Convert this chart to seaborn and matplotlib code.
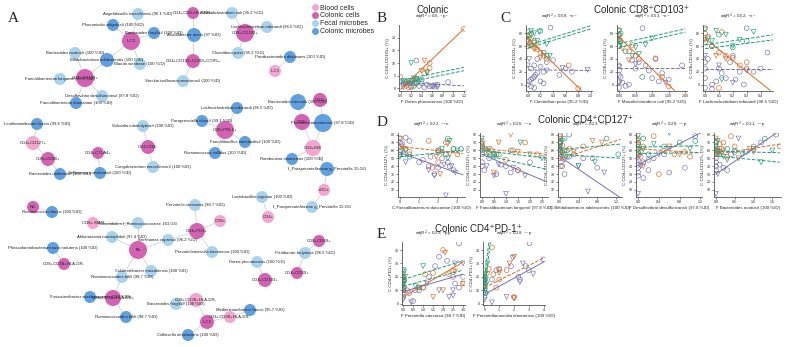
import numpy as np
import pandas as pd
import seaborn as sns
import matplotlib.pyplot as plt
from matplotlib.lines import Line2D
from matplotlib.ticker import FormatStrFormatter

sns.set_theme(style="ticks")
plt.rcParams['font.family'] = ['Liberation Sans', 'DejaVu Sans']

W, H = 787, 347

# ---------------- panel A : network ----------------
node_names = [
    "Angelakisella massiliensis (96.1 %ID)", "Phocaeicola vulgatus# (100 %ID)", "ILC3",
    "Bacteroides fragilis# (100 %ID)", "Acutalibacter muris (97 %ID)", "CD4+CD8+HLA-DR+",
    "Massiliclostridium coli (95.2 %ID)", "CD4+CD103+CCR9+CCR5+", "Stackia isoflavoniconvertens# (100 %ID)",
    "Clostridium porci (95.2 %ID)", "Bacteroides ovatus# (100 %ID)", "Bifidobacterium adolescentis (100 %ID)",
    "Blautia wexlerae (100 %ID)", "CD4+CD127+", "Faecalibacterium longum# (97.8 %ID)",
    "Desulfovibrio desulfuricans# (97.8 %ID)", "Faecalibacterium duncaniae (100 %ID)",
    "Lachnoclostridium edouardi (96.5 %ID)", "CD8+CD103+", "Parabacteroides distasonis (100 %ID)",
    "ILC3", "Bacteroides stercoris (100 %ID)", "CD4+", "Prevotella nanceiensis (97.8 %ID)", "CD8+",
    "CD4+EM", "Romboutsia timonensis (100 %ID)", "f_Paraprevotellaceae g_Prevotella 15.GG", "cDCs",
    "f_Paraprevotellaceae g_Prevotella 15.GG", "Lactobacillus rogosae (100 %ID)", "CD4+",
    "Lachnoclostridium edouardi (96.5 %ID)", "Paraprevotella clara# (99.1 %ID)", "CD8+PDL1+",
    "Faecalibacillus intestinalis# (100 %ID)", "Ruminococcus callidus (100 %ID)",
    "Lentihominibacter faecis (99.6 %ID)", "CD4+CD127+", "CD8+CD80+", "Bacteroides uniformis# (100 %ID)",
    "CD4+CTLA4+", "Sellimonas intestinalis# (100 %ID)", "Schaalia odontolytica# (100 %ID)", "CD4-CD8-",
    "Congobacterium massiliense# (100 %ID)", "NK", "Ruminococcus faecis (100 %ID)",
    "Prevotella stercorea (98.7 %ID)", "CD8+ MAIT", "Clostridiales f_Ruminococcaceae 163.GG", "CD4+PD1+",
    "CD8+", "Akkermansia muciniphila# (97.4 %ID)", "Tfh", "Senimonas caprosia (96.2 %ID)",
    "Prevotellamassilia timonensis (100 %ID)", "Phascolarctobacterium succinatutens (100 %ID)",
    "CD8+CD38+HLA-DR-", "Colidextribacter massiliensis (100 %ID)", "Ruminococcoides bili# (98.7 %ID)",
    "Fusicatenibacter saccharivorans (100 %ID)", "CD4+CD38+HLA-DR+", "Ruminococcoides bili# (98.7 %ID)",
    "Bacteroides fragilis# (100 %ID)", "CD8+CD38+HLA-DR-", "ILC2", "Collinsella aerofaciens (100 %ID)",
    "CD4+CD38+HLA-DR-", "Mediterraneibacter faecis (95.7 %ID)", "Dorea phocaeensis (100 %ID)",
    "CD4+CD103+", "Flintibacter butyricus (96.5 %ID)", "CD8+CD69+", "CD4+CD39+",
]
node_x = [138, 113, 131, 154, 194, 193, 232, 193, 183, 238, 75, 107, 140, 85, 60, 102, 76,
          267, 245, 290, 275, 298, 320, 323, 302, 313, 292, 327, 324, 312, 262, 268,
          237, 202, 225, 245, 215, 37, 33, 48, 60, 98, 100, 143, 148, 153, 33, 52,
          195, 93, 138, 197, 220, 112, 138, 168, 212, 53, 64, 151, 122, 90, 113, 126,
          176, 196, 207, 188, 230, 250, 257, 265, 305, 319, 297]
node_y = [14, 25, 41, 33, 35, 13, 13, 61, 81, 53, 53, 60, 64, 78, 79, 96, 103,
          27, 33, 57, 71, 102, 100, 123, 122, 148, 159, 169, 190, 207, 197, 217,
          108, 121, 130, 142, 153, 124, 143, 159, 174, 153, 173, 126, 147, 167, 207, 212,
          205, 223, 223, 231, 221, 237, 250, 240, 252, 248, 264, 271, 277, 297, 298, 317,
          304, 300, 322, 335, 317, 310, 262, 280, 253, 241, 273]
node_type = list("FMCMMCFCFFFMFCFFM" "FCMBMCMCBMMBFFB" "MMCMMMBCMCMFCFCM"
                 "FBFCBFCFFMCFFMCMFBCMBMFCFCC")
node_r = [6, 6, 9, 6, 7, 6, 6, 7, 6, 6, 6, 7, 6, 9, 6, 6, 6,
          6, 9, 6, 6, 8, 7, 9, 8, 8, 6, 7, 6, 6, 6, 6,
          6, 6, 9, 6, 6, 6, 7, 7, 6, 6, 6, 6, 7, 6, 6, 6,
          6, 6, 6, 8, 6, 6, 9, 6, 6, 6, 6, 6, 6, 6, 8, 6,
          6, 7, 7, 6, 6, 6, 6, 7, 6, 6, 6]
edges = [(1, 3), (2, 3), (4, 3), (12, 3), (13, 3),
         (12, 14), (11, 14), (15, 14), (16, 14), (17, 14),
         (6, 5), (5, 8), (8, 9), (19, 7), (19, 18), (19, 10), (20, 21),
         (22, 25), (23, 24), (25, 24), (25, 26), (24, 26), (26, 27), (26, 28), (28, 29), (29, 30),
         (31, 32), (35, 33), (35, 34), (35, 36), (35, 37),
         (38, 39), (39, 40), (40, 41), (42, 43), (44, 45), (45, 46), (47, 48),
         (50, 51), (51, 55), (54, 55), (56, 55), (60, 55), (61, 55),
         (52, 49), (52, 53), (52, 56), (52, 57), (58, 59),
         (61, 63), (62, 63), (64, 63), (65, 66), (66, 67), (67, 68), (67, 69), (69, 70),
         (71, 72), (73, 74), (73, 75)]

type_names = {"B": "Blood cells", "C": "Colonic cells", "F": "Fecal microbes", "M": "Colonic microbes"}
type_colors = {"Blood cells": "#F5A6D0", "Colonic cells": "#D462B3",
               "Fecal microbes": "#A8D3EF", "Colonic microbes": "#5EA0E0"}

fig = plt.figure(figsize=(7.87, 3.47), dpi=100)
axA = fig.add_axes([0, 0, 380 / W, 1])

nodes = pd.DataFrame({"name": node_names, "x": node_x, "y": node_y,
                      "type": [type_names[t] for t in node_type], "r": node_r})

for a, b in edges:
    axA.plot([node_x[a - 1], node_x[b - 1]], [node_y[a - 1], node_y[b - 1]],
             color="#c8c8c8", lw=0.5, zorder=1)

sns.scatterplot(data=nodes, x="x", y="y", hue="type", palette=type_colors,
                linewidth=0, legend=False, ax=axA, zorder=2)
axA.collections[-1].set_sizes((1.44 * nodes["r"]) ** 2)

for _, row in nodes.iterrows():
    axA.text(row["x"], row["y"], row["name"], ha="center", va="center", fontsize=3.1,
             color="#222222", zorder=3)

axA.set_xlim(0, 380)
axA.set_ylim(347, 0)
axA.axis("off")
handles = [Line2D([0], [0], marker="o", ls="", mfc=c, mec="none", ms=5, label=k)
           for k, c in type_colors.items()]
axA.legend(handles=handles, loc="upper left", bbox_to_anchor=(0.812, 0.995), frameon=False,
           fontsize=5, handletextpad=0.2, labelspacing=0.12, borderaxespad=0, handlelength=1)

# ---------------- scatter panels ----------------
# point order in each panel: purple o, purple v, orange o, orange v, green o, green v
b_x = [0.05, 0.1, 0.15, 0.2, 0.25, 0.3, 0.35, 0.4, 0.45, 0.5, 0.55, 0.6, 0.65, 0.7, 0.9, 0.3,
       0.05, 0.2, 0.6, 0.65, 0.7,
       0.0, 0.1, 0.2, 0.3, 0.45, 0.55, 0.55, 1.2, 0.15,
       0.1, 0.25, 0.4, 0.5, 0.45,
       0.1, 0.2, 0.3, 0.4, 0.25,
       0.2, 0.05, 0.15, 0.25, 0.3, 0.5, 0.35]
b_y = [2, 1, 3, 0.5, 2, 4, 1, 2, 0.5, 1.5, 0.8, 1, 0.7, 1.5, 2.5, 11,
       0.5, 2, 0.8, 1.2, 0.5,
       4.5, 2, 1, 2.5, 6, 10, 8, 23.5, 0.5,
       1.5, 3, 7, 6.5, 11,
       2.5, 3, 2, 3.5, 1,
       10, 3, 2, 4, 3.5, 6, 3]
b_n = [16, 5, 9, 5, 5, 7]
b_fits = [("orange", "-", 0, -0.3, 1.2, 23.5), ("green", "--", 0, 3.2, 1.2, 8.3),
          ("green", "--", 0, 1.9, 1.2, 7.0), ("purple", "--", 0, 2.5, 1.2, 1.0)]

c1_x = [0.0, 0.02, 0.05, 0.08, 0.1, 0.12, 0.15, 0.2, 0.25, 0.05, 0.1, 0.3, 0.4, 0.36, 0.5, 0.6, 0.7, 0.1,
        0.05, 0.2, 0.15, 0.25,
        0.0, 0.3, 0.55, 0.95, 0.02,
        0.0, 0.02, 0.05, 0.1, 0.15, 0.2, 0.25, 0.12, 0.3, 0.65, 0.8, 0.03,
        0.05, 0.1, 0.2, 0.0,
        0.05, 0.1, 0.2, 0.0, 0.25, 0.3,
        0.05, 0.1, 0.18, 0.0, 0.02, 0.3, 0.15, 0.35]
c1_y = [0, 5, 8, 10, 12, 15, 18, 28, 20, 25, 30, 35, 38, 89, 15, 25, 20, -5, -3, 5, 40, 2,
        30, 22, 26, 23, 40,
        82, 78, 72, 65, 55, 50, 45, 58, 40, 30, -6, 62,
        60, 55, 42, 68,
        80, 68, 84, 60, 50, 45,
        84, 80, 82, 76, 70, 63, 68, 45]
c1_n = [22, 5, 12, 4, 6, 8]
c1_fits = [("orange", "-", 0, 72, 0.85, -9), ("green", "--", 0, 61, 1.0, 92),
           ("green", "--", 0, 57, 1.0, 87), ("purple", "--", 0, 23, 1.0, 22)]

c2_x = [0.0, 0.0, 0.0, 0.0, 0.0, 0.05, 0.1, 0.3, 0.5, 0.6, 0.8, 0.9, 1.0, 1.2, 1.3, 1.5, 1.9, 0.71, 0.4,
        0.2, 1.1,
        0.0, 0.0, 0.5, 1.4,
        0.0, 0.0, 0.05, 0.0, 0.4, 0.5, 0.3, 0.6, 1.1, 1.3, 1.5,
        0.0, 0.1, 0.3,
        0.0, 0.0, 0.05, 0.7, 0.2,
        0.0, 0.0, 0.0, 0.05, 0.4, 0.6, 0.8, 1.0, 0.5]
c2_y = [-5, 5, 15, 22, 30, 12, 3, 0, 25, 35, 30, 22, 10, 5, 18, 8, 30, 88, 38, -2, 40,
        2, 28, 32, 3,
        85, 78, 68, 60, 62, 45, 52, 40, 41, 12, -3,
        72, 56, 38,
        70, 60, 80, 12, 52,
        84, 76, 68, 63, 45, 48, 62, 72, 58]
c2_n = [21, 4, 11, 3, 5, 9]
c2_fits = [("orange", "-", 0, 74, 1.67, -9), ("green", "--", 0, 64, 2.0, 87),
           ("green", "--", 0, 58, 2.0, 82), ("purple", "--", 0, 26, 2.0, 26)]

c3_x = [0.0, 0.0, 0.0, 0.0, 0.02, 0.05, 0.08, 0.1, 0.12, 0.15, 0.18, 0.2, 0.22, 0.25, 0.3, 0.35, 0.45,
        0.4, 0.05, 0.28,
        0.0, 0.1, 0.2, 0.3,
        0.0, 0.0, 0.02, 0.05, 0.1, 0.12, 0.15, 0.2, 0.25, 0.3, 0.3, 0.1,
        0.0, 0.08, 0.15,
        0.0, 0.05, 0.1, 0.2, 0.3,
        0.0, 0.02, 0.05, 0.08, 0.15, 0.2, 0.25, 0.35, 0.12]
c3_y = [-5, 10, 25, 35, 40, 0, 5, 25, 18, 10, 35, 45, 8, 20, 88, 20, 50, 25, -7, 0,
        45, 30, 3, 22,
        88, 80, 75, 60, 50, 82, 45, 42, 30, 25, 35, -5,
        70, 45, 40,
        66, 60, 78, 58, 68,
        86, 72, 68, 84, 78, 60, 70, 82, 8]
c3_n = [20, 4, 12, 3, 5, 9]
c3_fits = [("orange", "-", 0, 72, 0.47, -9), ("green", "--", 0, 62, 0.5, 78),
           ("green", "--", 0, 56, 0.5, 70), ("purple", "--", 0, 25, 0.5, 25)]

d1_x = [0.0, 0.0, 0.0, 0.0, 0.1, 0.3, 0.5, 0.5, 1.0, 1.2, 1.5, 1.8, 2.0, 2.2, 2.5, 2.6, 2.8, 2.0, 1.6,
        0.1, 0.3, 1.5, 1.8, 2.3, 2.4, 2.7, 2.9,
        0.0, 0.3, 0.5, 1.5, 2.0, 2.2, 2.4, 2.8, 3.0, 2.0, 1.7,
        0.0, 0.2, 1.9, 2.1, 2.5, 2.6,
        0.0, 0.2, 0.5, 2.0, 2.4, 2.8, 2.5, 3.2,
        0.0, 0.3, 2.2, 2.6, 3.0, 2.5]
d1_y = [75, 70, 60, 55, 68, 76, 72, 55, 45, 48, 40, 30, 38, 50, 45, 40, 35, 60, 52,
        65, 45, 35, 28, 42, 3, 40, 32,
        65, 62, 58, 72, 60, 58, 70, 62, 55, 45, 38,
        75, 62, 52, 30, 68, 55,
        58, 55, 52, 58, 55, 62, 75, 62,
        52, 60, 62, 72, 60, 50]
d1_n = [19, 8, 11, 6, 8, 6]
d1_fits = [("purple", "-", 0, 57, 3.3, 29), ("orange", "--", 0, 65, 3.3, 56),
           ("green", "--", 0, 52, 3.3, 60)]

d2_x = [0.0, 0.0, 0.0, 0.0, 0.1, 0.3, 0.5, 0.8, 1.0, 1.2, 1.5, 0.6, 2.0,
        0.0, 0.2, 0.5, 1.0, 1.3, 1.8, 0.7,
        0.0, 0.0, 0.2, 0.4, 0.6, 1.0, 1.5, 1.8, 2.3, 1.3,
        0.0, 0.3, 0.7, 1.2, 0.5, 1.5,
        0.0, 0.1, 0.3, 0.7, 1.2, 0.5,
        0.0, 0.2, 0.5, 1.6, 2.5, 2.0]
d2_y = [55, 65, 45, 40, 35, 50, 55, 42, 40, 32, 35, 30, 45,
        60, 40, 28, 5, 38, 28, 42,
        72, 65, 58, 60, 55, 48, 35, 70, 55, 60,
        68, 62, 70, 80, 32, 58,
        68, 62, 58, 55, 60, 52,
        75, 60, 55, 70, 50, 55]
d2_n = [13, 7, 10, 6, 6, 6]
d2_fits = [("purple", "-", 0, 55, 2.7, 20), ("orange", "--", 0, 62, 2.7, 55),
           ("green", "--", 0, 60, 2.7, 50), ("green", "--", 0, 55, 2.7, 36)]

d3_x = [0.0, 0.0, 0.0, 0.0, 0.0, 0.0, 0.02, 0.05, 0.1, 0.15, 0.2, 0.3, 0.5, 0.7, 0.8,
        0.0, 0.1, 0.4, 0.6, 0.95,
        0.0, 0.0, 0.0, 0.0, 0.02, 0.05, 0.1, 0.2, 0.5, 0.02,
        0.0, 0.0, 0.05, 0.3, 0.7, 0.9,
        0.0, 0.0, 0.05, 0.1, 0.15, 1.0, 1.25, 0.2,
        0.0, 0.05, 0.1, 0.4, 0.75]
d3_y = [80, 72, 65, 60, 55, 50, 45, 40, 30, 52, 80, 55, 50, 50, 38,
        68, 48, 40, 8, 32,
        78, 70, 62, 58, 52, 66, 60, 62, 65, 40,
        75, 65, 55, 58, 72, 70,
        70, 62, 58, 75, 60, 75, 55, 52,
        65, 72, 55, 40, 45]
d3_n = [15, 5, 10, 6, 8, 5]
d3_fits = [("purple", "-", 0, 52, 1.3, 0), ("orange", "--", 0, 49, 1.3, 74),
           ("green", "--", 0, 61, 1.3, 68), ("green", "--", 0, 55, 1.3, 50)]

d4_x = [0.0, 0.0, 0.0, 0.0, 0.0, 0.02, 0.1, 0.2, 0.3, 0.5, 0.6, 0.9, 1.1, 0.2, 0.1,
        0.0, 0.0, 0.05, 0.4, 0.6,
        0.0, 0.0, 0.0, 0.0, 0.05, 0.1, 0.3, 0.5, 0.7, 0.9, 1.0, 0.4,
        0.0, 0.0, 0.1, 0.6, 0.8,
        0.0, 0.0, 0.05, 0.1, 0.2, 0.5, 0.8, 1.1,
        0.0, 0.0, 0.1, 0.3, 0.6, 1.0]
d4_y = [48, 42, 38, 32, 28, 55, 45, 48, 50, 55, 32, 38, 78, 35, 25,
        5, 50, 40, 55, 62,
        75, 68, 62, 58, 52, 65, 78, 60, 55, 58, 52, 30,
        72, 55, 40, 65, 55,
        70, 62, 58, 75, 55, 65, 70, 72,
        78, 65, 62, 68, 82, 62]
d4_n = [15, 5, 12, 5, 8, 6]
d4_fits = [("purple", "-", 0, 42, 1.2, 82), ("orange", "--", 0, 62, 1.2, 57),
           ("green", "--", 0, 64, 1.2, 66), ("green", "--", 0, 56, 1.2, 57)]

d5_x = [0.0, 0.0, 0.0, 0.0, 0.0, 0.05, 0.1, 0.2, 0.3, 0.5, 0.8, 1.0, 1.2, 1.6, 0.4,
        0.0, 0.05, 0.1, 0.3, 0.6,
        0.0, 0.0, 0.0, 0.05, 0.1, 0.15, 0.2, 0.4, 0.5, 1.7, 0.3,
        0.0, 0.05, 0.2, 0.6, 0.9, 1.0,
        0.0, 0.0, 0.05, 0.1, 0.5, 1.0, 1.3, 0.3,
        0.0, 0.05, 0.2, 0.7, 1.2, 1.5]
d5_y = [55, 50, 45, 40, 35, 60, 42, 38, 35, 60, 58, 65, 70, 80, 55,
        5, 30, 58, 48, 75,
        72, 65, 60, 55, 68, 62, 70, 78, 65, 65, 52,
        75, 58, 60, 50, 62, 58,
        70, 62, 58, 55, 58, 62, 75, 62,
        65, 72, 52, 55, 45, 60]
d5_n = [15, 5, 11, 6, 8, 6]
d5_fits = [("purple", "-", 0, 30, 1.7, 85), ("orange", "--", 0, 55, 1.7, 68),
           ("green", "--", 0, 59, 1.7, 57), ("green", "--", 0, 53, 1.7, 45)]

e1_x = [0.0, 0.0, 0.0, 0.05, 0.3, 0.6, 0.8, 1.0, 1.3, 1.6, 1.8, 2.2, 2.5, 2.6, 2.8, 3.0, 0.5, 2.8,
        0.0, 0.0, 0.4, 1.2, 1.8, 2.3, 2.5, 2.6, 3.0, 2.5,
        0.0, 0.0, 0.2, 1.0, 1.5, 2.0, 2.3, 2.5, 3.0, 1.1,
        0.0, 0.1, 1.5, 2.0, 2.1, 2.6, 3.0, 0.8,
        0.0, 0.0, 0.05, 0.8,
        0.0, 0.0, 0.0, 0.0, 0.0, 0.0, 0.05, 0.05, 0.6, 1.0]
e1_y = [5, 8, 10, 12, 8, 10, 10, 12, 20, 28, 35, 32, 20, 15, 45, 20, 2, 12,
        3, 15, 1, 15, 10, 5, 10, 30, 30, 6,
        12, 18, 10, 12, 23, 40, 22, 25, 15, 22,
        15, 20, 5, 10, 38, 24, 15, 12,
        20, 10, 17, 12,
        25, 22, 20, 18, 14, 12, 24, 16, 13, 28]
e1_n = [18, 10, 10, 8, 4, 10]
e1_fits = [("orange", "-", 0, 5, 3.0, 31), ("purple", "-", 0, 9, 3.0, 22),
           ("green", "--", 0, 18, 3.0, 32), ("green", "--", 0, 13, 3.0, 25)]

e2_x = [0.0, 0.0, 0.05, 0.1, 0.5, 0.8, 1.0, 1.8, 2.3, 2.4, 3.05, 3.0, 2.8, 4.0,
        0.0, 0.0, 0.5, 1.5, 2.0, 2.6, 3.3, 2.4, 1.9,
        0.0, 0.0, 0.5, 0.6, 1.0, 1.5, 0.8, 2.0, 0.3,
        0.0, 0.2, 1.0, 1.7, 2.0, 1.0, 2.0,
        0.0, 0.0, 0.05, 0.1,
        0.0, 0.0, 0.0, 0.0, 0.05, 0.05, 0.1, 0.2]
e2_y = [5, 10, 15, 8, 18, 25, 26, 28, 20, 18, 45, 25, 28, 33,
        3, 12, 1, 5, 4, 30, 22, 16, 34,
        15, 18, 42, 22, 18, 25, 12, 5, 26,
        20, 22, 25, 30, 4, 23, 35,
        25, 13, 8, 16,
        20, 17, 15, 12, 22, 10, 18, 30]
e2_n = [14, 9, 9, 7, 4, 8]
e2_fits = [("purple", "-", 0, 7, 4.0, 31), ("orange", "--", 0, 12, 4.0, 34),
           ("green", "--", 0, 10, 0.4, 46), ("green", "--", 0, 20, 0.3, 46)]

pal = {"purple": "#7570B3", "orange": "#E0671F", "green": "#1B9E77"}
grp_order = ["purple", "purple", "orange", "orange", "green", "green"]
shape_order = ["o", "v", "o", "v", "o", "v"]


def panel(box, xs, ys, counts, fits, xlabel, ylabel, note, xlim, ylim, xticks, yticks, xfmt):
    l, r, t, b = box
    ax = fig.add_axes([l / W, 1 - b / H, (r - l) / W, (b - t) / H])
    df = pd.DataFrame({"x": xs, "y": ys,
                       "grp": np.repeat(grp_order, counts),
                       "shape": np.repeat(shape_order, counts)})
    sns.scatterplot(data=df, x="x", y="y", hue="grp", style="shape", palette=pal,
                    markers={"o": "o", "v": "v"}, s=12, linewidth=0.45, legend=False, ax=ax)
    coll = ax.collections[-1]
    coll.set_edgecolors(coll.get_facecolors())
    coll.set_facecolors("none")
    for col, ls, x0, y0, x1, y1 in fits:
        sns.lineplot(x=[x0, x1], y=[y0, y1], color=pal[col], linestyle=ls, lw=0.7, ax=ax)
    ax.set_xlim(*xlim)
    ax.set_ylim(*ylim)
    ax.set_xticks(xticks)
    ax.set_yticks(yticks)
    ax.xaxis.set_major_formatter(FormatStrFormatter(xfmt))
    ax.set_xlabel(xlabel, fontsize=3.2, labelpad=1)
    ax.set_ylabel(ylabel, fontsize=3.2, labelpad=1)
    ax.tick_params(labelsize=2.6, length=1.5, width=0.4, pad=1)
    for s in ["left", "bottom"]:
        ax.spines[s].set_linewidth(0.6)
        ax.spines[s].set_color("#555555")
    sns.despine(ax=ax)
    ax.text(0.5, 1.05, note, transform=ax.transAxes, ha="center", va="bottom", fontsize=3.2)
    return ax


top_row = (25, 91)
panel((399, 465) + top_row, b_x, b_y, b_n, b_fits, "F Dorea phocaeensis (100 %ID)",
      "C CD4+CD103+ (%)", "adjR$^2$ = 0.6, ~p~", (-0.03, 1.22), (-1, 25),
      [0, 0.2, 0.4, 0.6, 0.8, 1.0, 1.2], [0, 5, 10, 15, 20], "%.1f")
panel((526, 592) + top_row, c1_x, c1_y, c1_n, c1_fits, "F Clostridium porci (95.2 %ID)",
      "C CD8+CD103+ (%)", "adjR$^2$ = 0.58, ~n~", (-0.03, 1.02), (-10, 93),
      [0, 0.2, 0.4, 0.6, 0.8, 1.0], [0, 20, 40, 60, 80], "%.1f")
panel((617, 687) + top_row, c2_x, c2_y, c2_n, c2_fits, "F Massiliclostridium coli (95.2 %ID)",
      "C CD8+CD103+ (%)", "adjR$^2$ = 0.53, ~n~", (-0.06, 2.05), (-10, 93),
      [0, 0.5, 1.0, 1.5, 2.0], [0, 20, 40, 60, 80], "%.2f")
panel((703, 773) + top_row, c3_x, c3_y, c3_n, c3_fits, "F Lachnoclostridium edouardi (96.5 %ID)",
      "C CD8+CD103+ (%)", "adjR$^2$ = 0.52, ~n~", (-0.015, 0.49), (-10, 93),
      [0, 0.1, 0.2, 0.3, 0.4], [0, 20, 40, 60, 80], "%.1f")

mid_row = (133, 197)
d_ticks = [10, 20, 30, 40, 50, 60, 70, 80]
panel((398, 465) + mid_row, d1_x, d1_y, d1_n, d1_fits, "C Faecalibacterium duncaniae (100 %ID)",
      "C CD4+CD127+ (%)", "adjR$^2$ = 0.22, ~~n", (-0.1, 3.4), (1, 82),
      [0, 1, 2, 3], d_ticks, "%d")
panel((480, 548) + mid_row, d2_x, d2_y, d2_n, d2_fits, "F Faecalibacterium longum# (97.8 %ID)",
      "C CD4+CD127+ (%)", "adjR$^2$ = 0.26, ~~n", (-0.08, 2.75), (1, 82),
      [0, 0.5, 1.0, 1.5, 2.0, 2.5], d_ticks, "%.1f")
panel((558, 622) + mid_row, d3_x, d3_y, d3_n, d3_fits, "C Bifidobacterium adolescentis (100 %ID)",
      "C CD4+CD127+ (%)", "adjR$^2$ = 0.23, ~~n", (-0.04, 1.33), (1, 82),
      [0, 0.4, 0.8, 1.2], d_ticks, "%.1f")
panel((636, 702) + mid_row, d4_x, d4_y, d4_n, d4_fits, "F Desulfovibrio desulfuricans# (97.8 %ID)",
      "C CD4+CD127+ (%)", "adjR$^2$ = 0.28, ~~p", (-0.04, 1.23), (1, 82),
      [0, 0.4, 0.8, 1.2], d_ticks, "%.1f")
panel((714, 781) + mid_row, d5_x, d5_y, d5_n, d5_fits, "F Bacteroides ovatus# (100 %ID)",
      "C CD4+CD127+ (%)", "adjR$^2$ = 0.31, ~~p", (-0.05, 1.73), (1, 82),
      [0, 0.5, 1.0, 1.5], d_ticks, "%.1f")

bot_row = (242, 305)
panel((402, 465) + bot_row, e1_x, e1_y, e1_n, e1_fits, "F Prevotella stercorea (98.7 %ID)",
      "C CD4+PD1+ (%)", "adjR$^2$ = 0.29, ~pp", (-0.06, 3.1), (-1, 46),
      [0, 0.5, 1.0, 1.5, 2.0, 2.5, 3.0], [0, 10, 20, 30, 40], "%.1f")
panel((483, 545) + bot_row, e2_x, e2_y, e2_n, e2_fits, "F Prevotellamassilia timonensis (100 %ID)",
      "C CD4+PD1+ (%)", "adjR$^2$ = 0.28, ~~p", (-0.1, 4.1), (-1, 46),
      [0, 1, 2, 3, 4], [0, 10, 20, 30, 40], "%d")

# panel letters and titles
for letter, px, py in [("A", 13, 18), ("B", 382, 18), ("C", 505, 18), ("D", 382, 123), ("E", 381, 234)]:
    fig.text(px / W, 1 - py / H, letter, family=["Liberation Serif", "DejaVu Serif"],
             fontsize=11, ha="center", va="center")
for title, px, py in [("Colonic", 433, 10), ("Colonic CD8\u207aCD103\u207a", 641, 10),
                      ("Colonic CD4\u207aCD127\u207a", 585, 120), ("Colonic CD4\u207aPD-1\u207a", 478, 229)]:
    fig.text(px / W, 1 - py / H, title, fontsize=7, ha="center", va="center")

fig.savefig("out.png", dpi=100)
